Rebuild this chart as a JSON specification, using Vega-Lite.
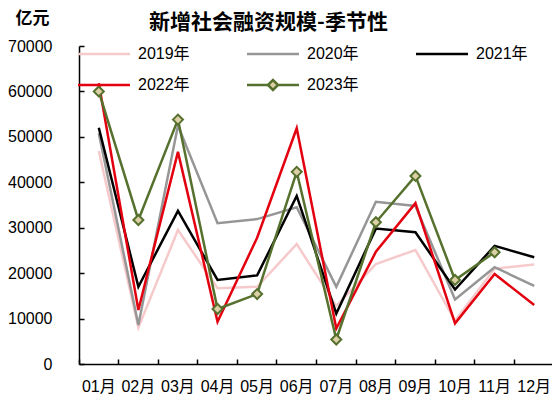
{
  "$schema": "https://vega.github.io/schema/vega-lite/v6.json",
  "width": 475,
  "height": 318,
  "autosize": {"type": "none"},
  "padding": {"left": 79, "top": 46, "right": 0, "bottom": 32},
  "config": {"view": {"stroke": null}, "font": "Liberation Sans"},
  "title": {
    "text": "新增社会融资规模-季节性",
    "font": "Noto Sans CJK SC",
    "fontSize": 21,
    "fontWeight": "bold",
    "color": "#000000",
    "anchor": "middle",
    "frame": "group",
    "dx": -48,
    "dy": 28,
    "offset": -13,
    "baseline": "alphabetic"
  },
  "data": {
    "values": [
      {"month": "01月", "year": "2019年", "value": 46900},
      {"month": "02月", "year": "2019年", "value": 8000},
      {"month": "03月", "year": "2019年", "value": 29500},
      {"month": "04月", "year": "2019年", "value": 16700},
      {"month": "05月", "year": "2019年", "value": 17000},
      {"month": "06月", "year": "2019年", "value": 26400},
      {"month": "07月", "year": "2019年", "value": 12800},
      {"month": "08月", "year": "2019年", "value": 22000},
      {"month": "09月", "year": "2019年", "value": 25100},
      {"month": "10月", "year": "2019年", "value": 9500},
      {"month": "11月", "year": "2019年", "value": 21000},
      {"month": "12月", "year": "2019年", "value": 21900},
      {"month": "01月", "year": "2020年", "value": 50800},
      {"month": "02月", "year": "2020年", "value": 8600},
      {"month": "03月", "year": "2020年", "value": 52500},
      {"month": "04月", "year": "2020年", "value": 31000},
      {"month": "05月", "year": "2020年", "value": 31900},
      {"month": "06月", "year": "2020年", "value": 34500},
      {"month": "07月", "year": "2020年", "value": 17000},
      {"month": "08月", "year": "2020年", "value": 35700},
      {"month": "09月", "year": "2020年", "value": 34800},
      {"month": "10月", "year": "2020年", "value": 14200},
      {"month": "11月", "year": "2020年", "value": 21300},
      {"month": "12月", "year": "2020年", "value": 17200},
      {"month": "01月", "year": "2021年", "value": 52000},
      {"month": "02月", "year": "2021年", "value": 17000},
      {"month": "03月", "year": "2021年", "value": 33700},
      {"month": "04月", "year": "2021年", "value": 18500},
      {"month": "05月", "year": "2021年", "value": 19500},
      {"month": "06月", "year": "2021年", "value": 37000},
      {"month": "07月", "year": "2021年", "value": 11100},
      {"month": "08月", "year": "2021年", "value": 29800},
      {"month": "09月", "year": "2021年", "value": 29000},
      {"month": "10月", "year": "2021年", "value": 16400},
      {"month": "11月", "year": "2021年", "value": 26000},
      {"month": "12月", "year": "2021年", "value": 23500},
      {"month": "01月", "year": "2022年", "value": 61800},
      {"month": "02月", "year": "2022年", "value": 11900},
      {"month": "03月", "year": "2022年", "value": 46700},
      {"month": "04月", "year": "2022年", "value": 9300},
      {"month": "05月", "year": "2022年", "value": 27800},
      {"month": "06月", "year": "2022年", "value": 51900},
      {"month": "07月", "year": "2022年", "value": 7800},
      {"month": "08月", "year": "2022年", "value": 24700},
      {"month": "09月", "year": "2022年", "value": 35400},
      {"month": "10月", "year": "2022年", "value": 8950},
      {"month": "11月", "year": "2022年", "value": 19800},
      {"month": "12月", "year": "2022年", "value": 13000},
      {"month": "01月", "year": "2023年", "value": 60000},
      {"month": "02月", "year": "2023年", "value": 31700},
      {"month": "03月", "year": "2023年", "value": 53800},
      {"month": "04月", "year": "2023年", "value": 12100},
      {"month": "05月", "year": "2023年", "value": 15400},
      {"month": "06月", "year": "2023年", "value": 42300},
      {"month": "07月", "year": "2023年", "value": 5400},
      {"month": "08月", "year": "2023年", "value": 31200},
      {"month": "09月", "year": "2023年", "value": 41400},
      {"month": "10月", "year": "2023年", "value": 18500},
      {"month": "11月", "year": "2023年", "value": 24600}
    ]
  },
  "encoding": {
    "x": {
      "field": "month",
      "type": "ordinal",
      "sort": null,
      "scale": {"type": "band", "paddingInner": 0, "paddingOuter": 0},
      "axis": {
        "title": null,
        "bandPosition": 0,
        "labelAngle": 0,
        "tickSize": -5,
        "labelPadding": 19,
        "domainColor": "#000000",
        "domainWidth": 1.5,
        "tickColor": "#000000",
        "tickWidth": 1.5,
        "labelFont": "Liberation Sans, Noto Sans CJK SC",
        "labelFontSize": 16,
        "labelColor": "#000000"
      }
    },
    "y": {
      "field": "value",
      "type": "quantitative",
      "scale": {"domain": [0, 70000], "nice": false},
      "axis": {
        "title": "亿元",
        "titleAngle": 0,
        "titleX": -47,
        "titleY": -28,
        "titleAlign": "center",
        "titleBaseline": "middle",
        "titleFont": "Noto Sans CJK SC",
        "titleFontSize": 17,
        "titleFontWeight": "bold",
        "titleColor": "#000000",
        "values": [0, 10000, 20000, 30000, 40000, 50000, 60000, 70000],
        "format": "d",
        "grid": false,
        "tickSize": -5,
        "labelPadding": 32,
        "domainColor": "#000000",
        "domainWidth": 1.5,
        "tickColor": "#000000",
        "tickWidth": 1.5,
        "labelFont": "Liberation Sans",
        "labelFontSize": 16,
        "labelColor": "#000000"
      }
    }
  },
  "layer": [
    {
      "mark": {"type": "line", "strokeWidth": 2.5},
      "encoding": {
        "color": {
          "field": "year",
          "type": "nominal",
          "scale": {
            "domain": ["2019年", "2020年", "2021年", "2022年", "2023年"],
            "range": ["#F6C9CB", "#969696", "#000000", "#E3000F", "#56702E"]
          },
          "legend": {
            "title": null,
            "orient": "none",
            "legendX": -4,
            "legendY": -1,
            "columns": 3,
            "direction": "horizontal",
            "padding": 0,
            "gridAlign": "all",
            "columnPadding": 52,
            "rowPadding": 12,
            "symbolType": "stroke",
            "symbolSize": 100,
            "symbolStrokeWidth": 2.5,
            "labelOffset": 47,
            "labelFont": "Liberation Sans, Noto Sans CJK SC",
            "labelFontSize": 16,
            "labelColor": "#000000",
            "encode": {
              "symbols": {
                "update": {
                  "shape": [
                    {"test": "datum.label === '2023年'", "value": "M-1,0L3.2,0L4.2,-1L5.2,0L4.2,1L3.2,0M5.2,0L9.4,0"},
                    {"value": "M-1,0L9.4,0"}
                  ],
                  "fill": [
                    {"test": "datum.label === '2023年'", "value": "#DDD0A6"},
                    {"value": "transparent"}
                  ]
                }
              }
            }
          }
        }
      }
    },
    {
      "transform": [{"filter": "datum.year === '2023年'"}],
      "mark": {"type": "point", "shape": "diamond", "filled": true, "fill": "#DDD0A6", "stroke": "#56702E", "strokeWidth": 2, "size": 100, "opacity": 1}
    }
  ]
}
